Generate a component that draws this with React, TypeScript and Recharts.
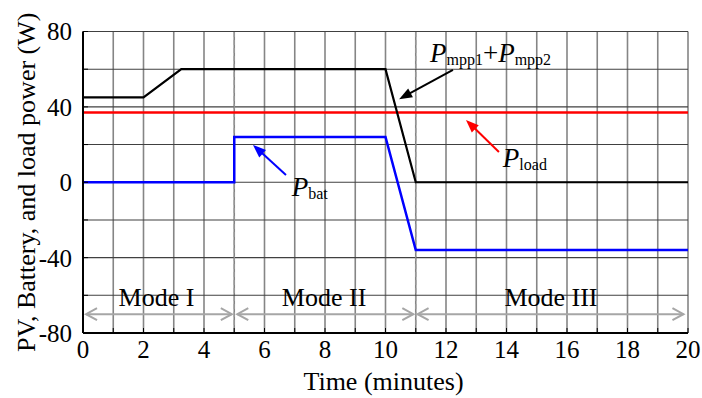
import React from 'react';
import {
  LineChart, Line, XAxis, YAxis, CartesianGrid, ReferenceLine, ReferenceDot, Label,
} from 'recharts';

const FONT = '"Liberation Serif", "Times New Roman", serif';

// Series (time in minutes, power in W)
const pvTime = [0, 2, 3.25, 10, 11, 20];
const pvPower = [45, 45, 60, 60, 0, 0];
const loadTime = [0, 20];
const loadPower = [37, 37];
const batTime = [0, 5, 5, 10, 11, 20];
const batPower = [0, 0, 24, 24, -36, -36];

// Axis ticks
const xTicks = [0, 1, 2, 3, 4, 5, 6, 7, 8, 9, 10, 11, 12, 13, 14, 15, 16, 17, 18, 19, 20];
const yTicks = [-80, -60, -40, -20, 0, 20, 40, 60, 80];

// Mode boundaries and labels
const modeBounds = [5, 11];
const modeNames = ['Mode I', 'Mode II', 'Mode III'];
const modeLabelX = [2.43, 7.97, 15.47];
const modeLabelY = -65.6;
const modeArrowY = -70;
const modeArrowStart = [0.1, 5.1, 11.06];
const modeArrowEnd = [4.92, 10.92, 19.85];

const toData = (t: number[], p: number[]) => t.map((x, i) => ({ x, y: p[i] }));
const pvData = toData(pvTime, pvPower);
const loadData = toData(loadTime, loadPower);
const batData = toData(batTime, batPower);

const ArrowShape = (color: string) => (props: any) => {
  const { x1, y1, x2, y2 } = props;
  const ang = Math.atan2(y2 - y1, x2 - x1);
  const L = 13, W = 5;
  const c = Math.cos(ang), s = Math.sin(ang);
  const bx = x2 - L * c, by = y2 - L * s;
  const pts = `${x2},${y2} ${bx + W * s},${by - W * c} ${bx - W * s},${by + W * c}`;
  return (
    <g>
      <line x1={x1} y1={y1} x2={bx + 2 * c} y2={by + 2 * s} stroke={color} strokeWidth={2} />
      <polygon points={pts} fill={color} />
    </g>
  );
};

const ModeArrowShape = (props: any) => {
  const { x1, y1, x2, y2 } = props;
  const col = '#a6a6a6';
  return (
    <g fill="none" stroke={col} strokeWidth={2}>
      <line x1={x1} y1={y1} x2={x2} y2={y2} />
      <polyline points={`${x1 + 11},${y1 - 6} ${x1},${y1} ${x1 + 11},${y1 + 6}`} />
      <polyline points={`${x2 - 11},${y2 - 6} ${x2},${y2} ${x2 - 11},${y2 + 6}`} />
    </g>
  );
};

const PText = (parts: { main: string; sub: string }[], joiner?: string) => (props: any) => {
  const { cx, cy } = props;
  return (
    <text x={cx} y={cy} fontFamily={FONT} fontSize={27} fill="#000">
      {parts.map((p, i) => (
        <React.Fragment key={i}>
          {i > 0 && joiner ? <tspan dy={-3}>{joiner}</tspan> : null}
          <tspan fontStyle="italic">{p.main}</tspan>
          <tspan fontSize={16} dy={3}>{p.sub}</tspan>
        </React.Fragment>
      ))}
    </text>
  );
};

const ModeText = (name: string) => (props: any) => (
  <text x={props.cx} y={props.cy} textAnchor="middle" fontFamily={FONT} fontSize={26} fill="#000">
    {name}
  </text>
);

const blank = () => '';

export default function App() {
  return (
    <div style={{ position: 'absolute', left: 0, top: 0, background: '#fff' }}>
      <LineChart
        width={702}
        height={398}
        margin={{ top: 31.5, right: 14, bottom: 0, left: 0 }}
        style={{ fontFamily: FONT }}
      >
        <CartesianGrid horizontal={false} vertical={true} stroke="#858585" strokeWidth={1.6} />
        <CartesianGrid horizontal={true} vertical={false} stroke="#404040" strokeWidth={1.1} />
        <XAxis
          type="number"
          dataKey="x"
          domain={[0, 20]}
          ticks={xTicks}
          interval={0}
          height={65}
          tickSize={-5}
          tickMargin={12}
          tickLine={{ stroke: '#000' }}
          axisLine={{ stroke: '#000', strokeWidth: 2 }}
          tick={{ fontSize: 25, fill: '#000', fontFamily: FONT }}
          tickFormatter={(v: number) => (v % 2 === 0 ? String(v) : '')}
          allowDataOverflow
        >
          <Label value="Time (minutes)" position="center" dx={-2} dy={15.5} fontSize={26} fill="#000" fontFamily={FONT} />
        </XAxis>
        <XAxis
          xAxisId="top"
          orientation="top"
          type="number"
          domain={[0, 20]}
          ticks={xTicks}
          interval={0}
          height={0}
          tickSize={-5}
          tickLine={{ stroke: '#000' }}
          axisLine={{ stroke: '#000', strokeWidth: 2 }}
          tickFormatter={blank}
        />
        <YAxis
          type="number"
          domain={[-80, 80]}
          ticks={yTicks}
          interval={0}
          width={83}
          tickSize={-5}
          tickMargin={16}
          tickLine={{ stroke: '#000' }}
          axisLine={{ stroke: '#000', strokeWidth: 2 }}
          tick={{ fontSize: 25, fill: '#000', fontFamily: FONT }}
          tickFormatter={(v: number) => (v % 40 === 0 ? String(v) : '')}
          allowDataOverflow
        >
          <Label value="PV, Battery, and load power (W)" angle={-90} position="center" dx={-16} fontSize={26} fill="#000" fontFamily={FONT} />
        </YAxis>
        <YAxis
          yAxisId="right"
          orientation="right"
          type="number"
          domain={[-80, 80]}
          ticks={yTicks}
          interval={0}
          width={0}
          tickSize={-5}
          tickLine={{ stroke: '#000' }}
          axisLine={{ stroke: '#000', strokeWidth: 2 }}
          tickFormatter={blank}
        />

        {modeBounds.map((b) => (
          <ReferenceLine key={'mb' + b} x={b} stroke="#999" strokeWidth={1.2} strokeDasharray="5 3" />
        ))}

        <Line data={loadData} dataKey="y" type="linear" stroke="#ff0000" strokeWidth={2.5} dot={false} isAnimationActive={false} />
        <Line data={pvData} dataKey="y" type="linear" stroke="#000000" strokeWidth={2.2} dot={false} isAnimationActive={false} />
        <Line data={batData} dataKey="y" type="linear" stroke="#0000ff" strokeWidth={2.5} dot={false} isAnimationActive={false} />

        <ReferenceLine segment={[{ x: 12.23, y: 59.6 }, { x: 10.45, y: 44.1 }]} shape={ArrowShape('#000')} />
        <ReferenceLine segment={[{ x: 13.75, y: 16.1 }, { x: 12.66, y: 33.1 }]} shape={ArrowShape('#ff0000')} />
        <ReferenceLine segment={[{ x: 6.71, y: 3.9 }, { x: 5.62, y: 19.8 }]} shape={ArrowShape('#0000ff')} />

        <ReferenceDot x={11.47} y={64.0} r={1} shape={PText([{ main: 'P', sub: 'mpp1' }, { main: 'P', sub: 'mpp2' }], '+')} />
        <ReferenceDot x={13.88} y={8.3} r={1} shape={PText([{ main: 'P', sub: 'load' }])} />
        <ReferenceDot x={6.9} y={-7.2} r={1} shape={PText([{ main: 'P', sub: 'bat' }])} />

        {modeNames.map((n, i) => (
          <ReferenceLine
            key={'ma' + i}
            segment={[{ x: modeArrowStart[i], y: modeArrowY }, { x: modeArrowEnd[i], y: modeArrowY }]}
            shape={ModeArrowShape}
          />
        ))}
        {modeNames.map((n, i) => (
          <ReferenceDot key={'ml' + i} x={modeLabelX[i]} y={modeLabelY} r={1} shape={ModeText(n)} />
        ))}
      </LineChart>
    </div>
  );
}
